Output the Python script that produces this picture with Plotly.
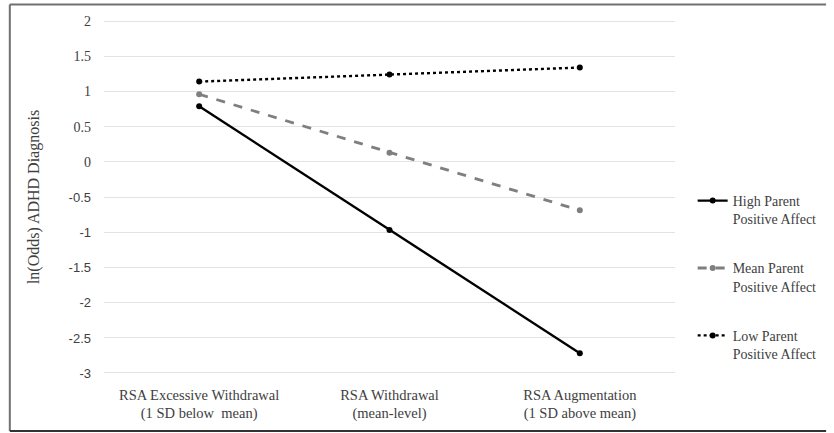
import plotly.graph_objects as go

categories = ["RSA Excessive Withdrawal<br>(1 SD below  mean)", "RSA Withdrawal<br>(mean-level)", "RSA Augmentation<br>(1 SD above mean)"]
series_names = ["High Parent<br>Positive Affect", "Mean Parent<br>Positive Affect", "Low Parent<br>Positive Affect"]
high_vals = [0.79, -0.97, -2.72]
mean_vals = [0.96, 0.13, -0.69]
low_vals = [1.14, 1.24, 1.34]
y_tickvals = [2, 1.5, 1, 0.5, 0, -0.5, -1, -1.5, -2, -2.5, -3]
y_ticklabels = ["2", "1.5", "1", "0.5", "0", "-0.5", "-1", "-1.5", "-2", "-2.5", "-3"]

SANS = "Liberation Sans"
SERIF = "Liberation Serif"
TXT = "#404040"

# negative tick labels appear in a sans face in the reference
y_ticktext = [t if not t.startswith("-") else
              f'<span style="font-family:{SANS};font-size:13px">{t}</span>'
              for t in y_ticklabels]

x = [0, 1, 2]
fig = go.Figure()
styles = [
    dict(color="#000000", dash="solid", width=2.4),
    dict(color="#7f7f7f", dash="dash", width=2.8),
    dict(color="#000000", dash="dot", width=2.4),
]
for i, (name, vals) in enumerate(zip(series_names, [high_vals, mean_vals, low_vals])):
    fig.add_trace(go.Scatter(
        x=x, y=vals, name=name, mode="lines+markers",
        line=styles[i],
        marker=dict(size=6, color=styles[i]["color"]),
        legendgroup=f"g{i}",
    ))

L, R, T, B = 104, 148, 19, 58
W, H = 834, 433
pw, ph = W - L - R, H - T - B


def px_x(v):
    return (v - L) / pw


def px_y(v):
    return (H - B - v) / ph


frame = dict(type="line", xref="paper", yref="paper", layer="above")
fig.update_layout(
    width=W, height=H,
    margin=dict(l=L, r=R, t=T, b=B),
    paper_bgcolor="white", plot_bgcolor="white",
    showlegend=True,
    legend=dict(
        x=px_x(704), xanchor="left",
        y=px_y(185), yanchor="top",
        font=dict(family=SERIF, size=14, color=TXT),
        tracegroupgap=28, valign="top",
        itemwidth=30,
    ),
    xaxis=dict(
        tickvals=x, ticktext=categories, range=[-0.5, 2.5],
        showgrid=False, zeroline=False, showline=False,
        tickfont=dict(family=SERIF, size=14.5, color=TXT),
        ticks="", ticklabelstandoff=9,
    ),
    yaxis=dict(
        range=[-3.03, 2.03], tickvals=y_tickvals, ticktext=y_ticktext,
        showgrid=True, gridcolor="#e3e3e3", gridwidth=1.2,
        zeroline=False, showline=False, ticks="",
        tickfont=dict(family=SERIF, size=14, color=TXT),
        ticklabelstandoff=12,
        title=dict(text="ln(Odds) ADHD Diagnosis",
                   font=dict(family=SERIF, size=16, color=TXT),
                   standoff=24),
    ),
    shapes=[
        dict(frame, x0=px_x(8), x1=px_x(840), y0=px_y(4.5), y1=px_y(4.5),
             line=dict(color="#707070", width=2)),
        dict(frame, x0=px_x(8), x1=px_x(8), y0=px_y(4.5), y1=px_y(431),
             line=dict(color="#707070", width=2)),
        dict(frame, x0=px_x(8), x1=px_x(840), y0=px_y(431), y1=px_y(431),
             line=dict(color="#333333", width=2)),
    ],
)

fig.write_html("out.html", config={"displayModeBar": False},
               post_script="document.body.style.margin='0';document.body.style.overflow='hidden';")
